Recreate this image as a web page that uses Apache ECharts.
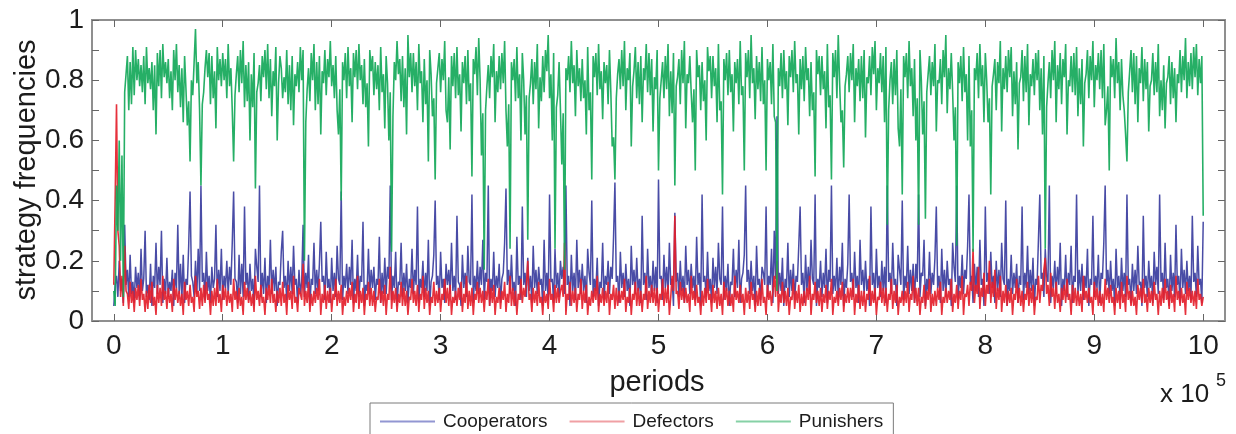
<!DOCTYPE html>
<html>
<head>
<meta charset="utf-8">
<script src="https://cdn.jsdelivr.net/npm/echarts@6/dist/echarts.min.js"></script>
<style>
html,body{margin:0;padding:0;background:#fff;}
#chart{width:1236px;height:434px;}
</style>
</head>
<body>
<div id="chart"></div>
<script>
// x in units of 10^5 periods; one sample every 0.0125 units (1250 periods)
const STEP = 0.0125;
const xTicks = [0,1,2,3,4,5,6,7,8,9,10];
const seriesNames = ['Cooperators','Defectors','Punishers'];

const cooperators = [
.05,.12,.15,.08,.20,.10,.14,.06,.32,.12,.17,.08,.22,.09,.13,.06,.18,.11,.16,.07,
.24,.10,.14,.30,.08,.12,.07,.19,.05,.15,.11,.26,.09,.18,.12,.30,.06,.14,.09,.21,
.08,.13,.10,.17,.05,.16,.11,.32,.09,.19,.07,.22,.06,.14,.12,.25,.43,.15,.13,.08,
.20,.09,.24,.10,.45,.13,.16,.07,.23,.10,.15,.06,.18,.11,.14,.32,.08,.17,.10,.24,
.07,.15,.11,.20,.09,.18,.12,.26,.43,.14,.13,.06,.22,.09,.19,.08,.38,.12,.16,.07,
.19,.10,.14,.05,.24,.18,.13,.45,.08,.16,.09,.21,.06,.15,.11,.27,.09,.17,.10,.18,
.05,.13,.12,.23,.30,.11,.15,.07,.20,.10,.18,.09,.25,.12,.14,.06,.17,.09,.13,.32,
.08,.16,.11,.22,.05,.14,.12,.26,.09,.17,.10,.19,.33,.13,.15,.07,.23,.11,.14,.06,
.21,.10,.16,.08,.25,.14,.12,.43,.07,.15,.11,.19,.09,.18,.12,.27,.06,.14,.10,.22,
.08,.15,.13,.33,.05,.12,.10,.24,.09,.17,.11,.18,.07,.14,.12,.28,.06,.16,.09,.21,
.09,.18,.14,.45,.07,.15,.11,.23,.05,.13,.12,.26,.08,.16,.10,.19,.06,.14,.11,.24,
.09,.17,.12,.38,.06,.14,.11,.20,.08,.16,.10,.27,.05,.13,.15,.22,.40,.12,.15,.07,
.23,.11,.14,.06,.19,.12,.17,.09,.26,.10,.15,.07,.35,.13,.12,.05,.22,.11,.16,.08,
.25,.13,.12,.42,.06,.15,.10,.20,.09,.18,.12,.27,.07,.16,.13,.45,.05,.14,.10,.23,
.08,.15,.11,.19,.06,.14,.16,.26,.44,.12,.17,.09,.22,.10,.13,.05,.28,.12,.15,.07,
.38,.12,.16,.08,.21,.10,.15,.06,.25,.11,.17,.09,.18,.12,.14,.05,.27,.10,.16,.07,
.42,.13,.14,.06,.24,.11,.16,.08,.20,.14,.18,.09,.45,.12,.15,.05,.22,.10,.16,.07,
.27,.11,.17,.09,.19,.10,.15,.06,.24,.16,.12,.40,.08,.14,.10,.21,.05,.13,.11,.26,
.07,.15,.12,.20,.09,.18,.14,.28,.46,.13,.15,.06,.23,.11,.16,.08,.19,.10,.14,.05,
.25,.12,.17,.09,.21,.10,.14,.06,.35,.12,.16,.07,.24,.11,.15,.08,.20,.10,.18,.06,
.47,.14,.15,.07,.22,.11,.18,.09,.26,.12,.14,.05,.36,.13,.16,.08,.20,.10,.15,.06,
.25,.12,.17,.09,.19,.11,.15,.07,.28,.12,.16,.05,.42,.13,.15,.08,.23,.10,.14,.06,
.21,.11,.18,.09,.26,.14,.12,.38,.07,.15,.10,.19,.05,.13,.12,.24,.08,.17,.11,.27,
.06,.14,.16,.22,.45,.13,.17,.09,.20,.10,.15,.05,.25,.12,.14,.07,.18,.16,.12,.38,
.08,.15,.12,.24,.06,.30,.14,.68,.09,.16,.10,.21,.05,.14,.11,.26,.08,.17,.10,.19,
.07,.15,.13,.25,.38,.12,.16,.06,.22,.10,.18,.09,.27,.14,.12,.42,.05,.14,.11,.20,
.08,.16,.11,.24,.06,.17,.13,.45,.09,.15,.10,.21,.07,.18,.12,.26,.05,.14,.11,.19,
.42,.13,.16,.08,.23,.11,.15,.06,.27,.12,.17,.09,.20,.10,.14,.05,.38,.12,.16,.07,
.24,.11,.15,.08,.20,.10,.18,.06,.45,.13,.16,.09,.26,.12,.14,.05,.22,.17,.12,.40,
.07,.15,.11,.25,.09,.17,.10,.19,.06,.19,.13,.42,.08,.16,.15,.27,.05,.14,.10,.23,
.09,.16,.12,.21,.38,.11,.15,.06,.24,.10,.17,.08,.20,.12,.14,.05,.26,.18,.13,.45,
.07,.15,.11,.22,.09,.17,.14,.25,.42,.12,.15,.06,.19,.10,.18,.08,.27,.12,.14,.05,
.38,.13,.16,.09,.23,.11,.15,.06,.20,.10,.17,.08,.26,.14,.12,.40,.05,.14,.10,.22,
.09,.16,.11,.19,.06,.15,.12,.38,.07,.16,.11,.25,.09,.17,.10,.21,.05,.14,.12,.27,
.42,.14,.16,.08,.24,.15,.13,.45,.06,.15,.11,.20,.09,.18,.12,.26,.05,.14,.10,.22,
.08,.16,.12,.25,.06,.15,.13,.42,.09,.17,.10,.19,.07,.15,.11,.24,.05,.14,.12,.35,
.08,.15,.11,.22,.06,.16,.14,.26,.45,.12,.17,.09,.20,.10,.14,.05,.24,.11,.15,.07,
.21,.10,.16,.08,.42,.12,.14,.06,.19,.10,.17,.09,.25,.12,.13,.05,.35,.11,.15,.08,
.20,.11,.15,.06,.23,.12,.18,.09,.42,.13,.16,.07,.26,.11,.14,.05,.22,.10,.16,.08,
.32,.12,.15,.06,.24,.11,.17,.09,.20,.10,.15,.07,.35,.13,.16,.08,.25,.12,.14,.06,
.33
];

const defectors = [
.12,.40,.72,.30,.25,.08,.15,.05,.25,.10,.09,.04,.13,.06,.10,.03,.11,.07,.12,.05,
.14,.07,.09,.03,.10,.04,.12,.06,.13,.05,.08,.02,.12,.06,.11,.05,.15,.07,.10,.04,
.11,.06,.09,.03,.14,.07,.11,.06,.10,.05,.09,.02,.13,.07,.10,.05,.12,.06,.08,.03,
.15,.08,.10,.04,.11,.05,.12,.06,.13,.07,.09,.02,.10,.05,.11,.05,.14,.06,.09,.03,
.12,.07,.11,.05,.10,.06,.09,.03,.14,.07,.10,.04,.11,.05,.08,.02,.13,.07,.11,.06,
.10,.05,.09,.03,.15,.07,.10,.05,.12,.06,.08,.02,.11,.07,.12,.06,.14,.06,.09,.03,
.10,.06,.11,.05,.13,.06,.09,.02,.12,.07,.10,.04,.15,.06,.08,.03,.11,.09,.07,.19,
.05,.10,.06,.13,.03,.09,.05,.10,.06,.11,.07,.14,.02,.09,.06,.12,.04,.10,.06,.11,
.03,.09,.07,.14,.05,.10,.06,.12,.02,.08,.05,.10,.06,.11,.07,.13,.03,.09,.06,.15,
.04,.10,.06,.11,.02,.09,.07,.13,.05,.11,.05,.10,.03,.08,.07,.14,.06,.10,.05,.12,
.02,.09,.07,.18,.04,.10,.06,.11,.03,.09,.06,.13,.05,.11,.05,.10,.02,.08,.07,.14,
.06,.10,.05,.12,.03,.09,.07,.15,.04,.11,.06,.10,.02,.08,.06,.13,.05,.10,.06,.11,
.03,.09,.07,.14,.06,.11,.05,.12,.02,.08,.06,.10,.05,.11,.07,.13,.03,.09,.06,.15,
.04,.10,.05,.11,.02,.09,.07,.13,.06,.11,.06,.10,.03,.10,.07,.14,.05,.11,.06,.12,
.02,.08,.06,.11,.04,.10,.07,.13,.03,.09,.06,.15,.05,.11,.05,.10,.02,.09,.07,.14,
.06,.11,.08,.12,.20,.07,.09,.03,.11,.06,.10,.05,.13,.06,.08,.02,.10,.06,.09,.04,
.14,.07,.09,.03,.12,.06,.11,.06,.10,.12,.08,.26,.02,.09,.07,.13,.05,.10,.06,.11,
.03,.09,.07,.14,.04,.10,.06,.12,.02,.08,.05,.10,.06,.11,.07,.15,.03,.09,.06,.11,
.05,.10,.06,.13,.02,.09,.07,.12,.04,.11,.05,.10,.06,.10,.07,.14,.03,.08,.06,.11,
.02,.09,.07,.13,.05,.11,.05,.10,.03,.09,.07,.15,.04,.10,.06,.12,.06,.11,.05,.11,
.03,.09,.07,.14,.05,.11,.06,.12,.02,.08,.15,.10,.35,.09,.10,.04,.13,.07,.11,.06,
.11,.06,.09,.03,.15,.07,.10,.05,.12,.06,.08,.02,.10,.05,.11,.06,.14,.07,.09,.03,
.12,.06,.10,.04,.11,.05,.09,.02,.13,.07,.11,.05,.10,.05,.09,.03,.15,.07,.10,.06,
.12,.06,.09,.02,.11,.06,.10,.04,.13,.07,.09,.03,.10,.05,.11,.05,.14,.06,.08,.02,
.12,.07,.10,.05,.10,.15,.08,.20,.03,.09,.06,.13,.06,.10,.05,.11,.02,.08,.07,.14,
.04,.10,.06,.12,.03,.09,.05,.10,.05,.11,.07,.15,.02,.09,.07,.13,.06,.10,.05,.11,
.03,.09,.06,.12,.04,.10,.07,.14,.02,.08,.06,.10,.05,.11,.07,.13,.03,.09,.06,.11,
.06,.11,.07,.14,.02,.09,.06,.12,.04,.10,.05,.10,.03,.09,.07,.15,.05,.10,.06,.11,
.02,.08,.07,.13,.06,.11,.05,.11,.03,.09,.07,.14,.04,.10,.06,.12,.02,.08,.06,.10,
.05,.10,.06,.13,.03,.09,.07,.15,.06,.11,.05,.11,.02,.08,.06,.12,.04,.10,.07,.14,
.03,.09,.05,.10,.05,.11,.07,.13,.02,.08,.06,.11,.06,.10,.07,.14,.03,.09,.06,.12,
.04,.10,.07,.15,.02,.09,.08,.12,.05,.13,.10,.24,.06,.12,.09,.18,.04,.11,.08,.16,
.05,.12,.09,.20,.06,.13,.08,.17,.04,.11,.07,.15,.03,.10,.06,.12,.05,.10,.06,.11,
.02,.09,.07,.14,.06,.11,.05,.10,.03,.09,.07,.13,.05,.11,.06,.12,.02,.08,.07,.15,
.06,.12,.10,.17,.21,.09,.12,.05,.16,.08,.11,.04,.13,.06,.09,.03,.11,.07,.12,.06,
.14,.07,.09,.02,.12,.06,.11,.05,.10,.05,.09,.03,.15,.07,.10,.06,.11,.06,.08,.02,
.13,.07,.11,.05,.10,.05,.09,.03,.14,.07,.11,.06,.12,.06,.08,.02,.11,.06,.10,.04,
.13,.06,.09,.03,.15,.07,.10,.05,.10,.05,.08,.02,.12,.07,.11,.06,.14,.06,.09,.03,
.11,.06,.10,.05,.13,.07,.09,.02,.10,.05,.11,.06,.14,.07,.10,.04,.12,.06,.09,.03,
.15,.07,.10,.05,.11,.06,.09,.02,.13,.07,.11,.06,.10,.05,.10,.04,.14,.07,.09,.05,
.08
];

const punishers = [
.10,.05,.45,.30,.60,.20,.55,.08,.76,.82,.88,.70,.86,.72,.91,.75,.90,.80,.87,.78,
.85,.76,.88,.72,.91,.79,.84,.77,.86,.70,.85,.62,.89,.78,.90,.74,.92,.81,.86,.79,
.87,.74,.83,.70,.90,.80,.92,.76,.85,.71,.84,.66,.88,.77,.65,.73,.53,.80,.75,.86,
.97,.79,.86,.70,.45,.72,.76,.84,.90,.81,.89,.72,.88,.74,.83,.64,.91,.80,.87,.78,
.89,.80,.87,.74,.92,.78,.84,.70,.53,.75,.82,.88,.76,.90,.79,.93,.71,.85,.73,.86,
.60,.82,.71,.89,.44,.76,.79,.85,.73,.88,.81,.90,.77,.92,.74,.87,.68,.83,.78,.91,
.60,.79,.88,.84,.74,.81,.76,.90,.72,.85,.70,.88,.65,.82,.78,.86,.76,.91,.80,.90,
.20,.66,.77,.84,.73,.89,.80,.92,.70,.86,.72,.88,.62,.83,.79,.90,.75,.87,.81,.93,
.78,.85,.74,.88,.70,.62,.77,.40,.86,.80,.89,.74,.91,.78,.84,.66,.89,.81,.90,.77,
.92,.80,.85,.72,.87,.71,.79,.58,.90,.83,.88,.75,.86,.77,.85,.70,.91,.76,.82,.64,
.88,.79,.60,.76,.23,.68,.86,.80,.93,.82,.87,.73,.88,.71,.84,.62,.95,.81,.89,.76,
.89,.78,.86,.70,.92,.79,.83,.66,.87,.72,.80,.53,.90,.82,.68,.74,.47,.79,.84,.89,
.76,.87,.80,.93,.70,.66,.81,.57,.88,.78,.89,.74,.91,.75,.82,.63,.86,.79,.88,.72,
.90,.73,.79,.48,.87,.82,.91,.75,.94,.80,.55,.69,.17,.70,.78,.85,.74,.88,.81,.92,
.66,.83,.76,.88,.77,.89,.79,.93,.70,.58,.72,.24,.86,.80,.87,.73,.91,.74,.82,.60,
.89,.80,.62,.75,.27,.74,.79,.87,.72,.86,.77,.92,.64,.81,.73,.88,.76,.90,.83,.95,
.74,.82,.60,.89,.24,.71,.75,.86,.70,.52,.69,.17,.84,.80,.88,.76,.93,.79,.85,.68,
.90,.78,.84,.73,.87,.74,.80,.62,.91,.70,.76,.47,.88,.81,.89,.75,.92,.77,.83,.67,
.86,.79,.85,.72,.90,.76,.58,.61,.47,.74,.82,.87,.77,.90,.78,.93,.70,.84,.80,.89,
.58,.78,.83,.91,.74,.86,.72,.88,.66,.84,.80,.92,.76,.89,.75,.87,.63,.81,.77,.90,
.50,.74,.80,.86,.74,.88,.77,.92,.68,.83,.69,.89,.45,.78,.81,.87,.72,.90,.79,.93,
.64,.82,.79,.88,.76,.66,.77,.50,.90,.81,.85,.70,.86,.73,.80,.60,.91,.83,.88,.74,
.88,.78,.84,.66,.92,.70,.73,.42,.87,.80,.89,.75,.90,.76,.82,.63,.86,.79,.87,.72,
.93,.75,.78,.50,.89,.81,.90,.74,.95,.79,.84,.67,.88,.77,.86,.73,.91,.72,.80,.50,
.87,.80,.86,.72,.92,.68,.66,.10,.84,.78,.89,.74,.90,.77,.83,.65,.88,.81,.90,.76,
.93,.79,.82,.62,.87,.77,.88,.73,.91,.80,.84,.68,.86,.70,.76,.48,.90,.82,.88,.75,
.88,.77,.83,.64,.92,.71,.75,.47,.89,.81,.90,.74,.95,.79,.66,.70,.51,.78,.82,.88,
.76,.89,.80,.92,.66,.84,.78,.87,.73,.88,.74,.90,.61,.81,.79,.88,.75,.91,.82,.93,
.70,.84,.79,.89,.76,.88,.66,.91,.32,.70,.80,.86,.72,.87,.75,.90,.64,.58,.77,.42,
.88,.81,.89,.74,.93,.78,.84,.68,.87,.60,.74,.32,.90,.80,.62,.73,.34,.76,.82,.88,
.75,.86,.78,.92,.63,.80,.79,.87,.72,.90,.81,.95,.69,.84,.77,.89,.76,.60,.71,.25,
.86,.79,.88,.73,.91,.76,.82,.60,.88,.58,.70,.23,.84,.80,.89,.74,.92,.78,.85,.66,
.89,.80,.66,.74,.42,.78,.82,.87,.70,.86,.79,.93,.63,.84,.77,.88,.76,.90,.81,.91,
.68,.83,.72,.86,.57,.79,.81,.90,.73,.88,.76,.92,.65,.82,.78,.87,.75,.89,.80,.90,
.70,.84,.62,.88,.24,.71,.79,.86,.74,.90,.80,.93,.66,.85,.77,.89,.72,.87,.81,.92,
.62,.80,.78,.88,.76,.89,.75,.91,.68,.84,.72,.87,.58,.79,.82,.90,.74,.88,.80,.93,
.71,.85,.80,.89,.77,.90,.74,.92,.65,.70,.78,.50,.88,.81,.87,.74,.94,.79,.86,.70,
.87,.75,.70,.62,.53,.76,.83,.90,.76,.89,.72,.88,.66,.84,.79,.91,.73,.87,.77,.86,
.63,.78,.80,.89,.75,.86,.76,.92,.68,.80,.70,.85,.64,.79,.81,.88,.72,.86,.74,.84,
.66,.82,.79,.90,.76,.88,.80,.94,.74,.86,.78,.89,.77,.91,.81,.92,.75,.87,.79,.88,
.35
];

[cooperators, defectors, punishers].forEach((a, k) => {
  if (a.length !== 801) throw new Error(seriesNames[k] + ' has ' + a.length + ' values');
});

const lineColors = ['#3a3d9e', '#e41f2b', '#13a859'];
const lineWidths = [1.5, 1.6, 1.6];
const legendColors = ['#9296d2', '#f0a0a4', '#86d1a6'];

const toPairs = arr => arr.map((v, i) => [+(i * STEP).toFixed(4), v]);

const FONT = "'Liberation Sans', Arial, Helvetica, sans-serif";
const TXT = '#1c1c1c';

const chart = echarts.init(document.getElementById('chart'), null, {renderer: 'canvas'});

const tickStyle = {color: '#666', width: 1};

const option = {
  animation: false,
  backgroundColor: '#ffffff',
  grid: {
    left: 92, right: 11, top: 20, bottom: 113,
    show: true, borderColor: '#8f8f8f', borderWidth: 2, backgroundColor: '#ffffff'
  },
  legend: {
    left: 370, top: 403,
    orient: 'horizontal',
    icon: 'rect',
    itemWidth: 55, itemHeight: 2, itemGap: 22,
    padding: [9, 10, 24, 10],
    borderColor: '#7a7a7a', borderWidth: 1,
    backgroundColor: '#fff',
    textStyle: {fontFamily: FONT, fontSize: 19, color: TXT, padding: [0, 0, 0, 3]},
    data: seriesNames.map((n, k) => ({name: n, itemStyle: {color: legendColors[k]}}))
  },
  xAxis: [{
    type: 'value', position: 'bottom', min: -0.2, max: 10.2,
    axisLine: {show: false, onZero: false},
    axisTick: {show: true, inside: true, length: 7, lineStyle: tickStyle, customValues: xTicks},
    axisLabel: {fontFamily: FONT, fontSize: 28, color: TXT, margin: 11, customValues: xTicks,
      formatter: v => String(Math.round(v))},
    splitLine: {show: false}
  }, {
    type: 'value', position: 'top', min: -0.2, max: 10.2,
    axisLine: {show: false, onZero: false},
    axisTick: {show: true, inside: true, length: 7, lineStyle: tickStyle, customValues: xTicks},
    axisLabel: {show: false},
    splitLine: {show: false}
  }],
  yAxis: [{
    type: 'value', position: 'left', min: 0, max: 1, interval: 0.1,
    axisLine: {show: false, onZero: false},
    axisTick: {show: true, inside: true, length: 7, lineStyle: tickStyle},
    axisLabel: {fontFamily: FONT, fontSize: 28, color: TXT, margin: 8,
      formatter: v => (Math.round(v * 10) % 2 === 0) ? String(+v.toFixed(1)) : ''},
    splitLine: {show: false}
  }, {
    type: 'value', position: 'right', min: 0, max: 1, interval: 0.1,
    axisLine: {show: false, onZero: false},
    axisTick: {show: true, inside: true, length: 7, lineStyle: tickStyle},
    axisLabel: {show: false},
    splitLine: {show: false}
  }],
  series: [cooperators, defectors, punishers].map((arr, k) => ({
    name: seriesNames[k],
    type: 'line',
    data: toPairs(arr),
    xAxisIndex: 0, yAxisIndex: 0,
    showSymbol: false, symbol: 'none',
    lineStyle: {color: lineColors[k], width: lineWidths[k], opacity: 0.92},
    itemStyle: {color: lineColors[k]},
    emphasis: {disabled: true},
    silent: true,
    z: 2 + k
  })),
  graphic: [
    {type: 'text', x: 27, y: 170, rotation: Math.PI / 2,
      style: {text: 'strategy frequencies', fontFamily: FONT, fontSize: 29, fill: TXT,
        align: 'center', verticalAlign: 'middle'}},
    {type: 'text', x: 657, y: 383,
      style: {text: 'periods', fontFamily: FONT, fontSize: 29, fill: TXT,
        align: 'center', verticalAlign: 'middle'}},
    {type: 'text', x: 1160, y: 395,
      style: {text: 'x 10', fontFamily: FONT, fontSize: 26, fill: TXT,
        align: 'left', verticalAlign: 'middle'}},
    {type: 'text', x: 1216, y: 381,
      style: {text: '5', fontFamily: FONT, fontSize: 18, fill: TXT,
        align: 'left', verticalAlign: 'middle'}}
  ]
};

chart.setOption(option);
</script>
</body>
</html>
